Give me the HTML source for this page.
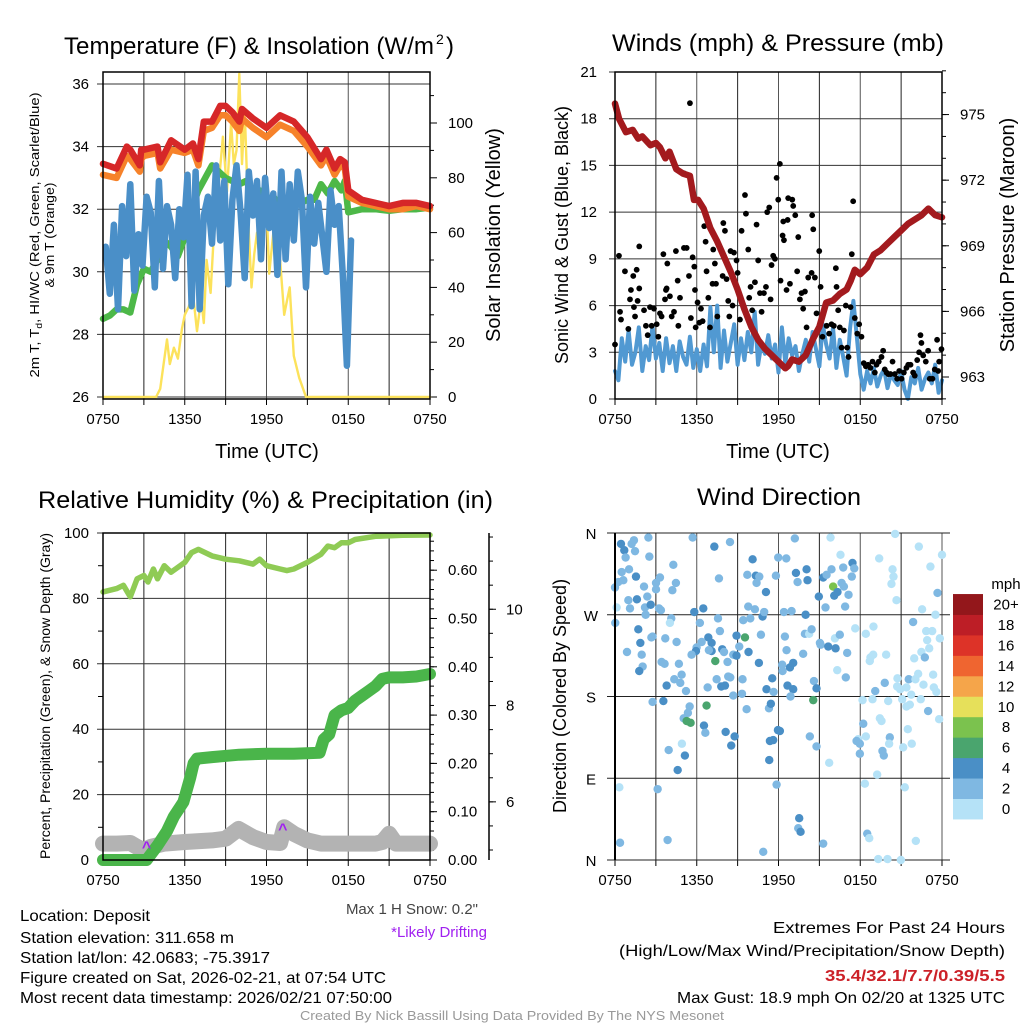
<!DOCTYPE html>
<html><head><meta charset="utf-8"><title>Mesonet Station Meteogram</title>
<style>
html,body{margin:0;padding:0;background:#fff;}
svg{display:block;font-family:"Liberation Sans Narrow","Liberation Sans",sans-serif;}
</style></head>
<body>
<svg id="chart" width="1024" height="1024" viewBox="0 0 1024 1024" xmlns="http://www.w3.org/2000/svg">
<rect width="1024" height="1024" fill="#fff"/>
<g id="layer"></g>
<!-- titles -->
<text x="64" y="54" font-size="24" textLength="370" lengthAdjust="spacingAndGlyphs">Temperature (F) &amp; Insolation (W/m</text>
<text x="436" y="44" font-size="14">2</text>
<text x="446" y="54" font-size="24">)</text>
<text x="612" y="51" font-size="24" textLength="332" lengthAdjust="spacingAndGlyphs">Winds (mph) &amp; Pressure (mb)</text>
<text x="38" y="508" font-size="24" textLength="455" lengthAdjust="spacingAndGlyphs">Relative Humidity (%) &amp; Precipitation (in)</text>
<text x="697" y="505" font-size="24" textLength="164" lengthAdjust="spacingAndGlyphs">Wind Direction</text>
<!-- axis titles -->
<text x="267" y="458" font-size="20" text-anchor="middle">Time (UTC)</text>
<text x="778" y="458" font-size="20" text-anchor="middle">Time (UTC)</text>
<text transform="translate(39,235) rotate(-90)" font-size="13" text-anchor="middle" textLength="285" lengthAdjust="spacingAndGlyphs">2m T, T<tspan font-size="9" dy="3">d</tspan><tspan dy="-3">, HI/WC (Red, Green, Scarlet/Blue)</tspan></text>
<text transform="translate(54,235) rotate(-90)" font-size="13" text-anchor="middle" textLength="105" lengthAdjust="spacingAndGlyphs">&amp; 9m T (Orange)</text>
<text transform="translate(500,235) rotate(-90)" font-size="20" text-anchor="middle">Solar Insolation (Yellow)</text>
<text transform="translate(568,235) rotate(-90)" font-size="18" text-anchor="middle">Sonic Wind &amp; Gust (Blue, Black)</text>
<text transform="translate(1014,235) rotate(-90)" font-size="20" text-anchor="middle">Station Pressure (Maroon)</text>
<text transform="translate(50,696) rotate(-90)" font-size="14" text-anchor="middle">Percent, Precipitation (Green), &amp; Snow Depth (Gray)</text>
<text transform="translate(566,696) rotate(-90)" font-size="18" text-anchor="middle">Direction (Colored By Speed)</text>
<!-- footer -->
<text x="478" y="914" font-size="15" fill="#444" text-anchor="end">Max 1 H Snow: 0.2"</text>
<text x="487" y="937" font-size="15" fill="#a020f0" text-anchor="end">*Likely Drifting</text>
<text x="20" y="921" font-size="16" textLength="130" lengthAdjust="spacingAndGlyphs">Location: Deposit</text>
<text x="20" y="943" font-size="16" textLength="214" lengthAdjust="spacingAndGlyphs">Station elevation: 311.658 m</text>
<text x="20" y="963" font-size="16" textLength="250" lengthAdjust="spacingAndGlyphs">Station lat/lon: 42.0683; -75.3917</text>
<text x="20" y="983" font-size="16" textLength="366" lengthAdjust="spacingAndGlyphs">Figure created on Sat, 2026-02-21, at 07:54 UTC</text>
<text x="20" y="1003" font-size="16" textLength="372" lengthAdjust="spacingAndGlyphs">Most recent data timestamp: 2026/02/21 07:50:00</text>
<text x="1005" y="933" font-size="16" text-anchor="end" textLength="232" lengthAdjust="spacingAndGlyphs">Extremes For Past 24 Hours</text>
<text x="1005" y="956" font-size="16" text-anchor="end" textLength="386" lengthAdjust="spacingAndGlyphs">(High/Low/Max Wind/Precipitation/Snow Depth)</text>
<text x="1005" y="981" font-size="16" font-weight="bold" fill="#cc2128" text-anchor="end" textLength="180" lengthAdjust="spacingAndGlyphs">35.4/32.1/7.7/0.39/5.5</text>
<text x="1005" y="1003" font-size="16" text-anchor="end" textLength="328" lengthAdjust="spacingAndGlyphs">Max Gust: 18.9 mph On 02/20 at 1325 UTC</text>
<text x="512" y="1020" font-size="13" fill="#999" text-anchor="middle" textLength="424" lengthAdjust="spacingAndGlyphs">Created By Nick Bassill Using Data Provided By The NYS Mesonet</text>
</svg>
<script>
// ---------- data ----------
const xTickLabels = ["0750","1350","1950","0150","0750"];
const tempTicks = [26,28,30,32,34,36];
const solarTicks = [0,20,40,60,80,100];
const windTicks = [0,3,6,9,12,15,18,21];
const pressTicks = [963,966,969,972,975];
const pctTicks = [0,20,40,60,80,100];
const precipTicks = ["0.00","0.10","0.20","0.30","0.40","0.50","0.60"];
const snowTicks = [6,8,10];
const dirLabels = ["N","E","S","W","N"];
const speedBinLabels = ["0","2","4","6","8","10","12","14","16","18","20+"];
const speedBinColors = ["#b5e2f7","#7fb8e2","#4a8fc6","#4aa56e","#7bc24e","#e6e05a","#f5a54a","#ef6530","#dd3328","#bd1e26","#93171b"];

const redHours = [0,1,1.75,2,2.7,2.8,3,4,4.2,5,6,6.6,7,7.4,8,8.6,9,9.5,10,10.2,11,12,13,14,15,16,16.4,17,17.4,17.75,18,19,20,21,22,23,24];
const redTemp  = [33.45,33.3,34.0,33.9,33.4,33.9,33.9,34.0,33.5,34.2,33.9,34.1,33.6,34.8,34.8,35.3,35.3,35.1,34.8,35.2,34.9,34.6,35.0,34.8,34.3,33.6,33.9,33.3,33.6,33.5,32.6,32.3,32.2,32.1,32.2,32.2,32.1];
const orangeTemp = [33.1,33.0,33.7,33.6,33.2,33.6,33.7,33.8,33.3,33.9,33.8,33.9,33.4,34.5,34.6,35.0,35.0,34.8,34.5,34.9,34.6,34.3,34.7,34.5,34.0,33.4,33.7,33.1,33.4,33.3,32.4,32.2,32.1,32.0,32.0,32.1,32.0];
const greenHours = [0,0.5,1,1.5,2,2.5,3,3.5,4,4.5,5,5.5,6,6.5,7,7.5,8,9,10,10.5,11,11.5,12,12.5,13,13.5,14,14.5,15,15.5,16,16.5,17,17.5,17.75,18,19,20,21,22,23,24];
const greenTemp  = [28.5,28.6,28.8,28.8,28.7,29.6,30.1,30.0,30.4,31.0,30.8,30.5,31.1,32.0,32.6,33.0,33.4,33.0,32.8,32.9,32.5,32.6,32.3,32.4,32.1,32.2,32.1,32.2,32.3,32.3,32.8,32.5,32.9,32.6,32.9,31.9,32.0,32.0,31.95,32.0,32.0,32.05];
const hiwcTemp = [30.8,29.3,31.5,28.8,32.1,30.5,32.8,29.4,31.2,30.2,32.4,31.9,29.5,32.9,30.1,32.1,31.5,29.8,32.0,31.1,33.1,28.9,33.2,28.8,31.8,32.4,30.9,33.4,31.0,32.9,29.6,32.3,33.4,31.9,29.8,33.2,31.8,32.9,30.4,33.0,31.4,32.5,29.9,33.2,30.4,32.8,31.0,33.2,32.3,29.5,32.4,30.9,32.2,31.1,30.0,32.6,31.5,32.1,29.9,27.0,31.0];
const solarHours = [0,3.9,4.2,4.7,4.9,5.2,5.5,5.8,6,6.3,6.6,6.9,7.2,7.4,7.6,7.9,8.2,8.5,8.8,9.1,9.4,9.6,9.8,10,10.2,10.4,10.7,10.9,11.1,11.3,11.5,11.8,12,12.2,12.6,12.8,13,13.3,13.5,13.7,14,14.4,14.9,24];
const solarValues = [0,0,3,21,12,18,14,25,30,33,38,24,36,27,50,38,65,78,95,75,100,85,90,118,85,105,60,40,52,60,50,65,70,45,65,55,50,30,35,40,15,7,0,0];

const pressHours = [0,0.3,0.8,1.3,1.7,2,2.6,3,3.3,3.7,4,4.5,5,5.5,5.8,6.1,6.5,7,7.5,8,8.5,9,9.5,10,10.5,11,11.5,12,12.5,12.7,13,13.5,14,14.5,15,15.5,16,16.5,17,17.3,17.6,18,18.5,19,19.5,20,20.5,21,21.5,22,22.5,23,23.5,24];
const pressValues = [975.5,974.8,974.2,974.3,973.9,974.0,973.6,973.7,973.5,973.0,973.3,972.5,972.3,972.2,971.1,971.1,970.7,969.8,969.2,968.5,967.8,967.0,966.1,965.3,964.7,964.3,964.0,963.7,963.4,963.5,963.8,963.7,964.0,964.7,965.3,966.4,966.5,966.8,967.0,967.4,967.9,967.7,968.0,968.6,968.8,969.1,969.4,969.7,970.0,970.2,970.4,970.7,970.4,970.3];
const sonicWind = [1.8,1.2,3.9,2.4,4.4,2.2,3.0,4.6,1.8,3.4,2.5,4.7,
 2.6,3.6,1.8,3.9,2.3,3.4,1.8,3.7,2.7,2.2,4.0,2.0,
 3.2,1.8,3.5,2.1,5.9,3.0,6.0,2.0,4.4,2.4,3.6,4.8,
 2.2,3.9,2.5,4.3,3.0,5.6,2.2,3.6,2.9,4.1,2.6,3.5,
 1.7,4.6,2.3,3.9,2.8,3.4,1.8,2.9,3.8,2.4,4.3,3.2,
 2.1,4.8,3.5,2.6,4.6,2.0,3.8,2.7,1.5,4.5,6.3,4.0,
 1.6,0.6,1.8,1.0,2.0,0.8,1.5,1.9,0.7,1.6,1.2,0.9,1.8,0.6,0.0,1.4,1.0,2.0,0.6,1.3,1.7,1.0,2.2,0.4,1.2];
const gustHours = [0,0.29,0.37,0.44,0.73,0.98,1.1,1.17,1.34,1.39,1.59,1.66,1.78,1.78,1.47,2.13,2.27,2.4,2.57,2.69,2.86,3.06,3.18,3.3,3.42,3.55,3.67,3.74,3.84,3.79,4.03,4.16,4.33,4.47,4.6,4.65,4.77,5.06,5.26,5.43,5.5,5.06,5.57,5.7,5.82,5.87,5.92,6.06,6.19,6.31,6.43,6.55,6.65,6.72,6.85,6.97,7.16,7.21,7.33,7.41,7.51,7.9,7.95,8.07,8.19,8.31,8.39,8.48,8.63,8.73,8.92,9.0,9.17,9.29,9.54,9.61,9.78,9.85,9.95,10.07,10.27,10.39,10.51,10.64,10.76,10.93,11.08,11.17,11.32,11.42,11.49,11.61,11.74,11.86,11.98,12.1,12.15,12.3,12.4,12.35,12.59,12.67,12.71,12.84,13.01,13.08,13.23,13.37,13.45,13.57,13.69,13.81,13.94,14.06,14.18,14.43,14.47,14.55,14.67,14.79,14.99,15.09,15.23,15.53,15.72,15.89,16.06,16.21,16.26,16.38,16.5,16.63,16.8,16.94,17.04,17.14,17.29,17.38,17.48,17.6,17.78,17.92,18.09,18.26,18.41,18.58,18.75,18.9,19.07,19.19,19.36,19.56,19.68,19.8,19.93,20.05,20.22,20.37,20.54,20.71,20.86,21.03,21.2,21.39,21.52,21.69,21.88,22.0,22.18,22.32,22.42,22.49,22.62,22.81,22.98,23.1,23.3,23.47,23.64,23.79,23.96,23.72];
const gustValues = [3.5,9.2,5.6,5.1,8.2,4.5,6.4,7.0,7.9,5.9,8.3,6.3,7.1,9.8,5.3,5.7,4.7,4.1,5.9,4.7,5.8,4.8,4.0,5.5,5.3,9.3,6.4,7.0,8.7,7.1,6.6,5.3,5.6,9.5,7.6,4.7,6.5,9.7,9.7,7.9,19.0,14.5,5.2,9.1,8.5,7.0,4.6,6.2,4.9,5.8,5.0,11.1,10.1,8.2,6.5,4.6,7.4,9.6,8.7,7.4,5.3,7.9,11.3,10.8,7.7,6.3,5.3,9.5,6.0,9.4,8.9,8.1,5.1,10.8,13.1,11.9,9.6,6.5,7.2,5.7,7.5,11.2,8.9,6.8,5.6,6.8,7.2,12.0,12.3,6.4,8.6,9.2,9.0,14.2,12.8,15.1,7.6,10.5,10.2,11.4,7.0,11.5,12.9,7.4,12.8,12.4,11.8,8.2,10.4,6.4,6.8,5.8,6.9,4.6,7.8,8.1,11.8,10.9,7.8,5.5,9.5,7.2,4.0,4.7,4.2,4.8,4.7,8.4,7.2,5.7,4.6,3.3,4.4,6.0,3.3,2.7,5.9,9.3,12.7,5.2,4.2,4.8,4.0,2.3,2.1,2.2,2.0,2.4,1.7,2.2,2.4,2.7,3.1,1.9,1.7,1.6,1.6,2.4,1.6,1.3,1.8,1.3,1.7,2.0,2.2,2.2,1.7,1.5,2.5,3.0,4.1,3.6,2.8,2.4,3.1,1.3,1.3,1.9,3.8,2.4,3.2,1.8];

const rhHours = [0,1,1.5,2,2.5,3,3.3,3.7,4,4.5,5,5.5,6,6.5,7,7.5,8,9,10,11,11.5,12,13,13.5,14,15,16,16.5,17,17.5,18,18.5,20,22,24];
const rhValues = [82,83,84,80.5,86,87,85,89,86,90,88,89.5,91,94,95,94,93,92,91.5,90.5,92,90,89,88.5,89,91,93.5,96,95.5,97,97,98,99,99.3,99.4];
const precipHours = [0,3.2,4,4.7,5.2,5.9,6.4,6.65,6.9,8,10,12,14,15.9,16.2,16.6,17,17.5,18,18.5,19,19.5,20,20.5,21,22,23,24];
const precipValues = [0,0,0.03,0.06,0.09,0.12,0.17,0.20,0.21,0.213,0.218,0.22,0.22,0.222,0.25,0.26,0.30,0.31,0.315,0.33,0.34,0.35,0.36,0.375,0.378,0.378,0.38,0.385];
const snowHours = [0,1,2,2.5,3,3.5,4.5,6,8,9,9.95,11,12,13,13.3,14,15,16,18,20,20.5,21,21.5,22,24];
const snowPct = [5,5,5.2,4,3,4,5,5.5,6,6.5,9.5,7,5.5,5.2,10,8,6,5,5,5,5.5,8,5,5,5];
const driftHours = [3.2,13.2];
const driftPct = [4.5,10];

const dirHours = [0.44,0.68,1.22,1.39,1.47,0.78,0.49,1.03,1.54,0.61,0.24,0,0.98,1.61,1.10,0.12,0.02,2.13,2.37,2.20,2.62,2.25,2.45,2.52,3.01,3.01,3.30,4.28,4.47,4.21,3.23,3.37,4.13,4.03,1.71,1.86,0.88,1.96,2.03,1.78,2.76,2.67,3.69,4.52,3.42,3.64,4.69,4.89,4.35,4.79,3.79,5.21,2.76,3.55,5.70,7.29,8.44,7.63,5.82,6.48,7.56,6.23,7.70,6.85,7.09,6.36,5.99,5.94,5.62,7.09,7.87,8.00,6.89,7.36,8.26,8.68,8.92,9.12,8.92,9.54,9.41,9.93,9.78,10.27,10.83,10.95,10.71,9.80,10.56,7.46,7.80,8.07,8.31,8.46,6.80,8.68,9.36,9.32,5.48,5.35,5.04,5.55,5.26,6.72,6.53,6.63,8.12,8.78,8.53,9.66,11.30,11.44,11.12,11.64,11.54,11.96,12.10,11.37,11.61,11.32,12.27,12.30,12.84,13.08,12.66,13.08,12.88,12.59,12.47,13.81,14.60,14.55,14.79,14.30,14.79,9.71,10.34,10.59,10.39,11.08,10.10,11.81,11.98,12.57,13.20,13.28,13.40,14.06,14.13,13.99,12.40,12.96,14.96,15.45,15.28,15.53,15.82,15.89,16.55,16.75,17.43,17.56,17.38,16.01,16.33,16.09,16.63,16.80,17.14,16.89,13.94,14.25,14.43,15.04,15.09,15.65,16.19,16.14,16.50,16.31,16.94,17.04,17.63,18.41,18.97,18.95,18.75,18.70,19.90,19.39,20.37,20.44,20.29,20.66,20.56,22.30,23.15,23.67,24.0,22.54,21.88,23.52,22.84,23.28,22.91,23.06,23.84,22.49,22.74,21.96,22.25,21.56,22.05,20.73,20.71,21.39,20.93,22.64,23.35,23.40,23.59,21.74,19.80,19.10,18.90,18.17,20.05,21.08,21.39,21.64,22.44,22.98,23.79,19.44,19.56,18.22,18.41,17.85,17.73,17.97,17.97,19.63,19.73,20.17,20.12,21.49,21.78,21.15,19.24,18.34,21.27,15.72,0.32,3.13,11.86,13.52,13.45,13.62,15.28,10.88,0.37,3.86,18.51,18.66,19.32,20.00,20.98,22.08,4.91,5.13,4.60,3.94];
const dirDegrees = [348,341,348,352,340,333,317,320,312,308,306,300,286,287,277,278,261,301,290,278,281,270,355,334,305,298,311,325,305,297,277,275,266,261,254,239,229,226,213,208,246,245,244,240,218,216,216,204,199,195,192,186,174,175,355,345,350,310,273,277,266,261,252,245,239,240,234,230,226,230,232,229,231,219,218,226,225,235,247,245,264,266,279,276,268,273,248,229,217,199,191,192,202,201,190,181,199,183,169,162,156,151,153,170,148,140,141,136,126,166,167,172,188,185,200,143,142,131,132,110,215,208,212,217,192,188,180,231,246,227,197,176,189,136,125,314,313,312,305,295,331,313,333,332,354,316,306,320,308,270,273,274,290,278,311,314,355,320,336,322,327,321,312,301,295,291,305,301,292,279,249,249,254,239,237,235,233,244,248,209,201,228,255,249,257,226,223,219,226,332,320,312,304,286,359,345,323,294,336,276,262,270,252,252,242,233,244,229,223,222,205,199,199,200,191,190,188,193,204,190,185,182,195,186,177,176,175,177,169,171,177,164,155,156,153,150,136,133,131,128,117,120,115,135,128,144,128,124,94,84,80,107,80,78,83,46,35,31,18,9,19,22,29,24,1,1,0,21,128,115,99,121];
const dirSpeeds = [5,5,3,3,3,3,3,3,5,3,3,3,3,5,3,1,3,3,3,3,5,3,3,3,3,3,3,3,3,3,3,3,3,1,5,5,3,3,3,5,3,3,3,3,3,3,3,3,3,3,5,3,3,5,3,5,3,3,5,5,3,3,3,5,5,3,3,5,3,5,5,3,3,7,3,3,5,3,5,7,3,3,3,3,5,3,3,5,5,3,5,5,3,3,3,3,3,3,3,3,3,7,7,7,5,3,5,5,5,3,3,5,5,3,5,5,5,5,5,5,3,3,5,5,5,5,3,3,3,3,3,7,5,3,3,3,5,3,3,5,5,3,3,3,3,5,3,5,5,5,3,3,5,3,5,3,1,3,1,3,5,3,3,9,5,5,3,3,3,3,3,1,3,3,3,5,5,1,3,1,3,3,1,1,1,1,1,1,1,1,1,1,1,1,1,1,1,3,1,1,3,1,1,1,1,1,1,1,3,1,1,3,1,1,1,1,1,1,1,1,1,1,3,3,1,1,1,1,1,1,1,3,1,1,1,3,1,1,3,3,3,3,3,3,1,1,1,1,1,1,1,1,1,3,3,5,3,5,3,3,3,3,3,1,1,1,1,1,1,5,5,3,3];

// ---------- scales ----------
const NS = "http://www.w3.org/2000/svg";
const layer = document.getElementById("layer");
const hx1 = h => 103 + h * 327 / 24;
const hx2 = h => 615 + h * 327 / 24;
const yTemp = t => 397 - (t - 26) * 31.3;
const ySolar = s => 397 - s * 2.74;
const yWind = v => 399 - v * 327 / 21;
const yPress = p => 377 - (p - 963) * 21.87;
const yPct = v => 860 - v * 3.27;
const yPrecip = p => 860 - p * 483;
const ySnow = s => 850 - (s - 5) * 48.15;
const yDir = d => 860 - d * 327 / 360;

function mk(tag, attrs, parent) {
  const el = document.createElementNS(NS, tag);
  for (const k in attrs) el.setAttribute(k, attrs[k]);
  (parent || layer).appendChild(el);
  return el;
}
function txt(x, y, s, size, anchor, name) {
  const el = mk("text", {x: x, y: y, "font-size": size, "text-anchor": anchor});
  el.textContent = s;
  
  
  return el;
}
function series(xs, ys, fx, fy, color, width, name) {
  let d = "";
  xs.forEach((x, i) => { d += (i ? "L" : "M") + fx(x).toFixed(1) + "," + fy(ys[i]).toFixed(1); });
  const el = mk("path", {d: d, fill: "none", stroke: color, "stroke-width": width, "stroke-linejoin": "round", "stroke-linecap": "round"});
  
  
  return el;
}
function gridPanel(x0, y0, prefix) {
  const g = mk("g", {});
  
  
  for (let i = 0; i <= 8; i++) {
    const x = x0 + i * 327 / 8;
    mk("line", {x1: x, x2: x, y1: y0, y2: y0 + 327, stroke: i % 2 ? "#222" : "#555", "stroke-width": 1}, g);
    mk("line", {x1: x, x2: x, y1: y0 + 327, y2: y0 + 333, stroke: "#000"}, g);
  }
  xTickLabels.forEach((s, i) => {
    txt(x0 + i * 327 / 4, y0 + 352, s, 15, "middle", prefix + '-x-tick-label');
  });
}
function frame(x0, y0, prefix) {
  const el = mk("rect", {x: x0, y: y0, width: 327, height: 327, fill: "none", stroke: "#000", "stroke-width": 1.5});
  
  
}

// ---------- panel 1 ----------
gridPanel(103, 72, "temp");
tempTicks.forEach(t => {
  mk("line", {x1: 97, x2: 430, y1: yTemp(t), y2: yTemp(t), stroke: "#333"});
  txt(89, yTemp(t) + 5, String(t), 15, "end", 'temp-y-tick-label');
});
solarTicks.forEach(s => {
  mk("line", {x1: 430, x2: 437, y1: ySolar(s), y2: ySolar(s), stroke: "#000"});
  txt(448, ySolar(s) + 5, String(s), 15, "start", 'solar-tick-label');
});
for (let s = 10; s <= 110; s += 20) mk("line", {x1: 430, x2: 434, y1: ySolar(s), y2: ySolar(s), stroke: "#000"});
series(solarHours, solarValues, hx1, ySolar, "#fce25b", 2.4, 'insolation-line');
series(greenHours, greenTemp, hx1, yTemp, "#4db848", 6.5, 'dewpoint-line');
series(redHours, orangeTemp, hx1, yTemp, "#f6822a", 6.5, 'nine-meter-temp-line');
series(redHours, redTemp, hx1, yTemp, "#d62728", 6.5, 'two-meter-temp-line');
{
  const hiwcHours = hiwcTemp.map((v, i) => 0.2 + i * 0.3);
  series(hiwcHours, hiwcTemp, hx1, yTemp, "#4a8fc8", 6.5, 'heat-index-windchill-line');
}
frame(103, 72, "temp");

// ---------- panel 2 ----------
gridPanel(615, 72, "wind");
windTicks.forEach(v => {
  mk("line", {x1: 609, x2: 942, y1: yWind(v), y2: yWind(v), stroke: "#333"});
  txt(597, yWind(v) + 5, String(v), 15, "end", 'wind-y-tick-label');
});
pressTicks.forEach(p => {
  mk("line", {x1: 942, x2: 949, y1: yPress(p), y2: yPress(p), stroke: "#000"});
  txt(960, yPress(p) + 5, String(p), 15, "start", 'pressure-tick-label');
});
for (let p = 962; p <= 977; p++) mk("line", {x1: 942, x2: 946, y1: yPress(p), y2: yPress(p), stroke: "#000"});
{
  const sonicHours = sonicWind.map((v, i) => i * 0.25);
  series(sonicHours, sonicWind, hx2, yWind, "#5199d2", 4, 'sonic-wind-line');
}
gustHours.forEach((h, i) => {
  const c = mk("circle", {cx: hx2(h), cy: yWind(gustValues[i]), r: 2.9, fill: "#000"});
  
  
});
series(pressHours, pressValues, hx2, yPress, "#a31a1e", 6.5, 'pressure-line');
frame(615, 72, "wind");

// ---------- panel 3 ----------
gridPanel(103, 533, "rh");
pctTicks.forEach(v => {
  mk("line", {x1: 97, x2: 430, y1: yPct(v), y2: yPct(v), stroke: "#333"});
  txt(89, yPct(v) + 5, String(v), 15, "end", 'percent-tick-label');
});
for (let v = 10; v <= 90; v += 20) mk("line", {x1: 98, x2: 103, y1: yPct(v), y2: yPct(v), stroke: "#000"});
precipTicks.forEach(s => {
  const p = parseFloat(s);
  mk("line", {x1: 430, x2: 437, y1: yPrecip(p), y2: yPrecip(p), stroke: "#000"});
  txt(448, yPrecip(p) + 5, s, 15, "start", 'precip-tick-label');
});
for (let p = 0.02; p <= 0.67; p += 0.02) mk("line", {x1: 430, x2: 434, y1: yPrecip(p), y2: yPrecip(p), stroke: "#000"});
mk("line", {x1: 489, x2: 489, y1: 533, y2: 860, stroke: "#000", "stroke-width": 1.5});
snowTicks.forEach(s => {
  mk("line", {x1: 489, x2: 496, y1: ySnow(s), y2: ySnow(s), stroke: "#000"});
  txt(506, ySnow(s) + 5, String(s), 15, "start", 'snow-tick-label');
});
for (let s = 5; s <= 11.5; s += 0.5) mk("line", {x1: 489, x2: 493, y1: ySnow(s), y2: ySnow(s), stroke: "#000"});
series(snowHours, snowPct, hx1, yPct, "#b3b3b3", 16, 'snow-depth-line');
series(precipHours, precipValues, hx1, yPrecip, "#4ab54a", 12, 'precipitation-line');
series(rhHours, rhValues, hx1, yPct, "#8fcb55", 5.5, 'relative-humidity-line');
driftHours.forEach((h, i) => {
  const t = mk("text", {x: hx1(h), y: yPct(driftPct[i]) + 7, "font-size": 16, fill: "#a020f0", "text-anchor": "middle", "font-weight": "bold"});
  t.textContent = "^";
  
  
});
frame(103, 533, "rh");

// ---------- panel 4 ----------
gridPanel(615, 533, "direction");
dirLabels.forEach((s, i) => {
  const d = i * 90;
  mk("line", {x1: 607, x2: 950, y1: yDir(d), y2: yDir(d), stroke: "#222"});
  txt(591, yDir(d) + 6, s, 15, "middle", 'direction-tick-label');
});
dirHours.forEach((h, i) => {
  const bin = Math.min(10, Math.floor(dirSpeeds[i] / 2));
  const c = mk("circle", {cx: hx2(h), cy: yDir(dirDegrees[i]), r: 4.2, fill: speedBinColors[bin]});
  
  
});
mk("line", {x1: 615, x2: 615, y1: 533, y2: 860, stroke: "#000", "stroke-width": 2});
// colorbar
speedBinColors.forEach((col, i) => {
  const r = mk("rect", {x: 953, y: 819 - (i + 1) * 20.45, width: 30, height: 20.9, fill: col});
  
  
  txt(1006, 819 - i * 20.45 - 5, speedBinLabels[i], 15, "middle", 'colorbar-label');
});
txt(1006, 589, "mph", 15, "middle", 'colorbar-title');
</script>
</body></html>
